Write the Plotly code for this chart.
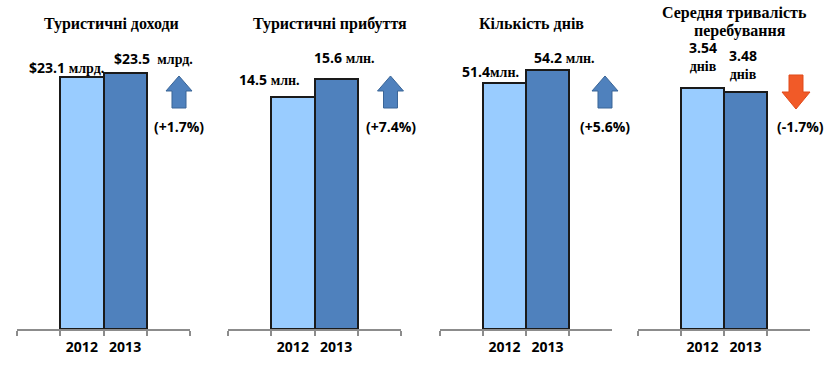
import plotly.graph_objects as go

# ---------------- data ----------------
years = ["2012", "2013"]
titles = ["Туристичні доходи", "Туристичні прибуття", "Кількість днів",
          "Середня тривалість<br>перебування"]
revenue = [23.1, 23.5]          # $ млрд.
arrivals = [14.5, 15.6]         # млн.
days = [51.4, 54.2]             # млн.
avg_stay = [3.54, 3.48]         # днів
changes = ["(+1.7%)", "(+7.4%)", "(+5.6%)", "(-1.7%)"]
SER = "<span style='font-family:Liberation Serif;font-size:14px'>"
labels = [
    [f"$23.1 {SER}млрд.</span>", f"$23.5  {SER}млрд.</span>"],
    [f"14.5 {SER}млн.</span>", f"15.6 {SER}млн.</span>"],
    [f"51.4{SER}млн.</span>", f"54.2 {SER}млн.</span>"],
    [f"3.54<br>{SER}днів</span>", f"3.48<br>{SER}днів</span>"],
]
series = [revenue, arrivals, days, avg_stay]

# ---------------- layout helpers ----------------
W, H = 838, 368
PLOT_TOP, PLOT_BOTTOM = 20, 329
def px(x):
    return x / W
def py(y):
    return 1 - y / H

axis_px = [(17, 190), (228, 401), (440, 612), (638, 810)]
scale_px = [256, 250, 259, 241]          # pixel height of the max bar
colors = ["#99CCFF", "#4F81BD"]
cats = [" ", years[0], years[1], "  "]

# label placement: (x index, xanchor, yshift) per bar
label_pos = [
    [(-0.27, "left", 10), (1.70, "left", 15)],
    [(-0.29, "left", 17), (1.44, "left", 22)],
    [(-0.04, "left", 12), (1.65, "left", 13)],
    [(1.00, "center", 32), (1.95, "center", 28)],
]
# title line positions: list of (x, y) per line
title_pos = [[(111, 24)], [(330, 24)], [(531, 24)], [(734, 13), (740, 31)]]
change_pos = [(179, 126), (391, 126), (605, 126), (800, 126)]
arrow_cx = [179, 390.5, 605, 796]

fig = go.Figure()
annotations = []
shapes = []
num_font = dict(family="Open Sans", size=14, color="black", weight="bold")

for i, vals in enumerate(series):
    xa = "x" if i == 0 else f"x{i+1}"
    ya = "y" if i == 0 else f"y{i+1}"
    fig.add_trace(go.Bar(
        x=years, y=vals, xaxis=xa, yaxis=ya, width=1,
        marker=dict(color=colors, line=dict(color="#1a1a1a", width=2)),
        showlegend=False, hoverinfo="skip"))
    x0, x1 = axis_px[i]
    rng = max(vals) * (PLOT_BOTTOM - PLOT_TOP) / scale_px[i]
    key = "" if i == 0 else str(i + 1)
    fig.layout["xaxis" + key] = dict(
        domain=[px(x0), px(x1)], anchor=ya, type="category",
        categoryorder="array", categoryarray=cats, range=[-0.5, 3.5],
        tickson="boundaries", ticks="outside", ticklen=5, tickcolor="#8c8c8c",
        tickwidth=1.5, showline=True, linecolor="#8c8c8c", linewidth=1.5,
        ticklabelstandoff=4,
        showgrid=False, zeroline=False, tickfont=num_font, fixedrange=True)
    fig.layout["yaxis" + key] = dict(
        domain=[1 - PLOT_BOTTOM / H, 1 - PLOT_TOP / H], anchor=xa,
        range=[0, rng], visible=False, fixedrange=True)
    # data labels
    for j, v in enumerate(vals):
        lx, anc, ys = label_pos[i][j]
        annotations.append(dict(
            x=lx, y=v, xref=xa, yref=ya, text=labels[i][j], showarrow=False,
            xanchor=anc, yanchor="middle", yshift=ys, font=num_font, align="center"))
    # title (one annotation per line)
    for line_txt, (tx, ty) in zip(titles[i].split("<br>"), title_pos[i]):
        annotations.append(dict(
            x=px(tx), y=py(ty), xref="paper", yref="paper", text=f"<b>{line_txt}</b>",
            showarrow=False, xanchor="center", yanchor="middle",
            font=dict(family="Liberation Serif", size=16, color="black")))
    # change text
    cx, cy = change_pos[i]
    annotations.append(dict(
        x=px(cx), y=py(cy), xref="paper", yref="paper", text=changes[i],
        showarrow=False, xanchor="center", yanchor="middle", font=num_font))
    # arrow
    c = arrow_cx[i]
    up = vals[1] >= vals[0]
    if up:
        pts = [(c, 76), (c + 13, 91), (c + 7, 91), (c + 7, 108), (c - 7, 108),
               (c - 7, 91), (c - 13, 91)]
        fill, line = "#4F81BD", "#3A6597"
    else:
        pts = [(c, 109), (c + 14, 92), (c + 7, 92), (c + 7, 75), (c - 7, 75),
               (c - 7, 92), (c - 14, 92)]
        fill, line = "#F15A28", "#E04A1A"
    path = "M " + " L ".join(f"{px(a):.5f},{py(b):.5f}" for a, b in pts) + " Z"
    shapes.append(dict(type="path", path=path, xref="paper", yref="paper",
                       fillcolor=fill, line=dict(color=line, width=1)))

fig.update_layout(
    width=W, height=H, margin=dict(l=0, r=0, t=0, b=0),
    paper_bgcolor="white", plot_bgcolor="white",
    annotations=annotations, shapes=shapes, bargap=0,
)
fig.write_html("out.html", config={"displayModeBar": False},
               post_script="document.body.style.margin='0';document.body.style.overflow='hidden';")
